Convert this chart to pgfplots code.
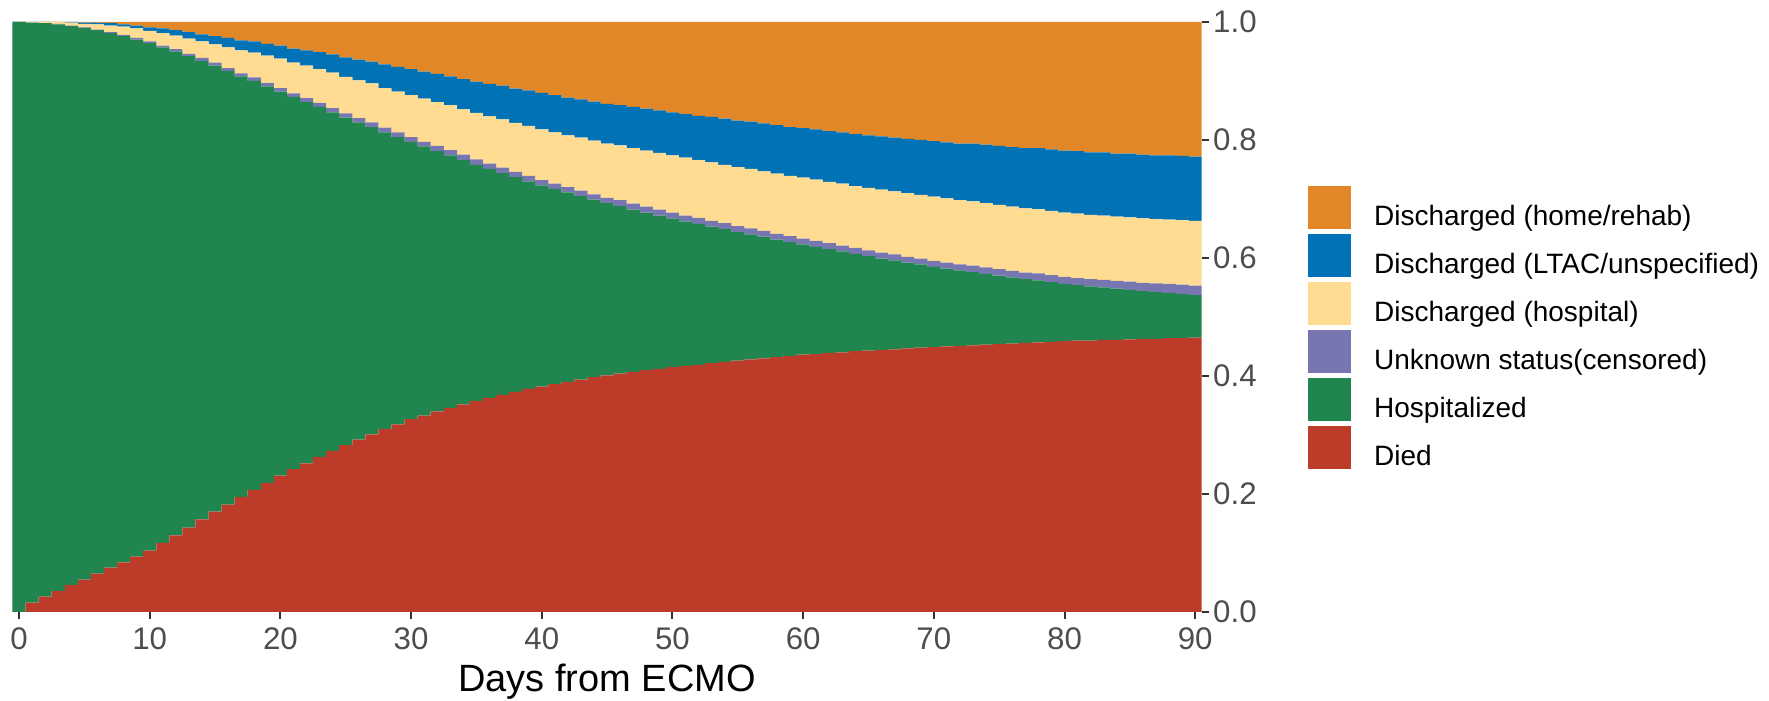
\documentclass[border=0pt]{standalone}
\usepackage{fontspec}
\setmainfont{Liberation Sans}
\usepackage{pgfplots}
\usepackage{pgfplotstable}
\pgfplotsset{compat=1.18}
\definecolor{cDied}{HTML}{BC3C29}
\definecolor{cHosp}{HTML}{20854E}
\definecolor{cUnk}{HTML}{7876B1}
\definecolor{cDHosp}{HTML}{FFDC91}
\definecolor{cLTAC}{HTML}{0072B5}
\definecolor{cHome}{HTML}{E18727}
\definecolor{tickgray}{HTML}{333333}
\definecolor{labgray}{HTML}{4D4D4D}

% proportion of patients in each state, per day from ECMO (last row closes the final step)
\pgfplotstableread{
day died hosp unk dhosp ltac home
0 0.000 1.000 0.000 0.000 0.000 0.000
1 0.016 0.983 0.000 0.001 0.000 0.000
2 0.026 0.972 0.000 0.002 0.000 0.000
3 0.036 0.960 0.001 0.003 0.000 0.000
4 0.046 0.947 0.001 0.005 0.001 0.000
5 0.055 0.935 0.001 0.006 0.002 0.001
6 0.065 0.921 0.001 0.009 0.003 0.001
7 0.075 0.906 0.002 0.011 0.004 0.002
8 0.084 0.892 0.002 0.014 0.004 0.004
9 0.094 0.876 0.003 0.016 0.005 0.006
10 0.104 0.860 0.003 0.018 0.006 0.009
11 0.117 0.840 0.003 0.021 0.008 0.011
12 0.130 0.820 0.004 0.023 0.009 0.014
13 0.143 0.799 0.004 0.026 0.011 0.017
14 0.157 0.777 0.005 0.028 0.012 0.021
15 0.170 0.756 0.005 0.031 0.014 0.024
16 0.182 0.735 0.005 0.035 0.016 0.027
17 0.195 0.713 0.005 0.039 0.017 0.031
18 0.207 0.693 0.006 0.042 0.019 0.033
19 0.219 0.672 0.006 0.046 0.020 0.037
20 0.231 0.651 0.006 0.050 0.022 0.040
21 0.242 0.631 0.006 0.052 0.024 0.045
22 0.252 0.612 0.007 0.055 0.026 0.048
23 0.263 0.593 0.007 0.057 0.029 0.051
24 0.273 0.574 0.007 0.060 0.031 0.055
25 0.283 0.555 0.007 0.062 0.033 0.060
26 0.292 0.538 0.007 0.064 0.035 0.064
27 0.301 0.521 0.008 0.066 0.037 0.067
28 0.310 0.503 0.008 0.067 0.040 0.072
29 0.318 0.487 0.008 0.069 0.042 0.076
30 0.327 0.470 0.008 0.071 0.044 0.080
31 0.333 0.456 0.008 0.073 0.046 0.084
32 0.340 0.441 0.009 0.074 0.048 0.088
33 0.346 0.428 0.009 0.076 0.049 0.092
34 0.352 0.414 0.009 0.077 0.051 0.097
35 0.358 0.400 0.009 0.079 0.053 0.101
36 0.363 0.388 0.009 0.080 0.055 0.105
37 0.368 0.376 0.009 0.082 0.057 0.108
38 0.373 0.364 0.009 0.083 0.058 0.113
39 0.378 0.352 0.009 0.085 0.060 0.116
40 0.382 0.341 0.009 0.086 0.062 0.120
41 0.386 0.331 0.009 0.087 0.063 0.124
42 0.390 0.321 0.009 0.088 0.064 0.128
43 0.394 0.311 0.009 0.090 0.065 0.131
44 0.398 0.301 0.009 0.091 0.066 0.135
45 0.401 0.292 0.009 0.092 0.067 0.139
46 0.404 0.284 0.010 0.093 0.068 0.141
47 0.407 0.275 0.010 0.094 0.070 0.144
48 0.410 0.267 0.010 0.095 0.071 0.147
49 0.412 0.260 0.010 0.096 0.072 0.150
50 0.415 0.252 0.010 0.097 0.073 0.153
51 0.417 0.245 0.010 0.098 0.074 0.156
52 0.419 0.239 0.010 0.098 0.075 0.159
53 0.422 0.231 0.010 0.099 0.077 0.161
54 0.424 0.225 0.010 0.099 0.078 0.164
55 0.426 0.218 0.010 0.100 0.079 0.167
56 0.428 0.212 0.010 0.101 0.080 0.169
57 0.430 0.206 0.010 0.101 0.081 0.172
58 0.432 0.199 0.010 0.102 0.082 0.175
59 0.434 0.193 0.010 0.102 0.083 0.178
60 0.436 0.187 0.010 0.103 0.084 0.180
61 0.437 0.182 0.010 0.104 0.085 0.182
62 0.439 0.176 0.010 0.104 0.086 0.185
63 0.440 0.171 0.010 0.105 0.087 0.187
64 0.442 0.165 0.010 0.105 0.088 0.190
65 0.443 0.160 0.010 0.106 0.089 0.192
66 0.444 0.155 0.010 0.107 0.090 0.194
67 0.445 0.151 0.010 0.107 0.091 0.196
68 0.447 0.145 0.010 0.108 0.092 0.198
69 0.448 0.141 0.010 0.108 0.093 0.200
70 0.449 0.136 0.010 0.109 0.094 0.202
71 0.450 0.132 0.010 0.109 0.095 0.204
72 0.451 0.128 0.010 0.109 0.096 0.206
73 0.452 0.124 0.011 0.109 0.098 0.206
74 0.453 0.120 0.011 0.109 0.099 0.208
75 0.454 0.116 0.011 0.109 0.100 0.210
76 0.455 0.112 0.011 0.109 0.101 0.212
77 0.456 0.108 0.011 0.109 0.102 0.214
78 0.457 0.105 0.012 0.109 0.103 0.214
79 0.458 0.101 0.012 0.109 0.104 0.216
80 0.459 0.097 0.012 0.109 0.105 0.218
81 0.460 0.094 0.012 0.109 0.106 0.219
82 0.460 0.092 0.012 0.109 0.106 0.221
83 0.461 0.089 0.013 0.109 0.107 0.221
84 0.461 0.087 0.013 0.109 0.107 0.223
85 0.462 0.084 0.014 0.109 0.108 0.223
86 0.463 0.081 0.014 0.109 0.108 0.225
87 0.463 0.079 0.015 0.109 0.108 0.226
88 0.464 0.077 0.015 0.109 0.109 0.226
89 0.464 0.075 0.016 0.109 0.109 0.227
90 0.465 0.072 0.016 0.110 0.109 0.228
91 0.465 0.072 0.016 0.110 0.109 0.228
}\datatable

\begin{document}
\begin{tikzpicture}
\begin{axis}[
  at={(0,0)}, anchor=south west,
  scale only axis, width=475.7pt, height=236pt,
  xmin=-0.5, xmax=90.5, ymin=0, ymax=1,
  stack plots=y,
  axis x line*=bottom, axis y line*=right,
  axis line style={draw=none},
  xtick={0,10,20,30,40,50,60,70,80,90},
  ytick={0,0.2,0.4,0.6,0.8,1},
  tick align=outside,
  major tick length=2.8pt,
  tick style={color=tickgray, line width=0.8pt},
  /pgf/number format/assume math mode=true,
  ticklabel style={font=\fontsize{12.5}{14}\selectfont, text=labgray, inner sep=0pt},
  yticklabel style={/pgf/number format/fixed, /pgf/number format/fixed zerofill, /pgf/number format/precision=1, xshift=1.6pt},
  xticklabel style={yshift=-3.2pt},
  xlabel={Days from ECMO},
  xlabel style={font=\fontsize{15.2}{18}\selectfont, text=black, at={(rel axis cs:0.5,0)}, anchor=base, yshift=-32pt, inner sep=0pt},
  legend cell align=left,
  reverse legend,
  legend style={at={(rel axis cs:1.0876,0.482)}, anchor=west, draw=none, fill=none,
    inner sep=0pt, outer sep=0pt, row sep=0pt,
    font=\fontsize{11.2}{13}\selectfont, text=black,
    nodes={inner sep=0pt},
    /tikz/every odd column/.append style={column sep=8.3pt}},
  legend image code/.code={\draw[#1, draw=white, line width=1pt] (0pt,-5.2pt) rectangle (18pt,13pt);},
]
\addplot[fill=cDied, draw=none, const plot mark left] table[x expr=\thisrow{day}-0.5, y=died]{\datatable} \closedcycle;
\addlegendentry{Died}
\addplot[fill=cHosp, draw=none, const plot mark left] table[x expr=\thisrow{day}-0.5, y=hosp]{\datatable} \closedcycle;
\addlegendentry{Hospitalized}
\addplot[fill=cUnk, draw=none, const plot mark left] table[x expr=\thisrow{day}-0.5, y=unk]{\datatable} \closedcycle;
\addlegendentry{Unknown status(censored)}
\addplot[fill=cDHosp, draw=none, const plot mark left] table[x expr=\thisrow{day}-0.5, y=dhosp]{\datatable} \closedcycle;
\addlegendentry{Discharged (hospital)}
\addplot[fill=cLTAC, draw=none, const plot mark left] table[x expr=\thisrow{day}-0.5, y=ltac]{\datatable} \closedcycle;
\addlegendentry{Discharged (LTAC/unspecified)}
\addplot[fill=cHome, draw=none, const plot mark left] table[x expr=\thisrow{day}-0.5, y=home]{\datatable} \closedcycle;
\addlegendentry{Discharged (home/rehab)}
\end{axis}
\pgfresetboundingbox
\path[use as bounding box] (-5pt,-35.6pt) rectangle (702.6pt,244.8pt);
\end{tikzpicture}
\end{document}
